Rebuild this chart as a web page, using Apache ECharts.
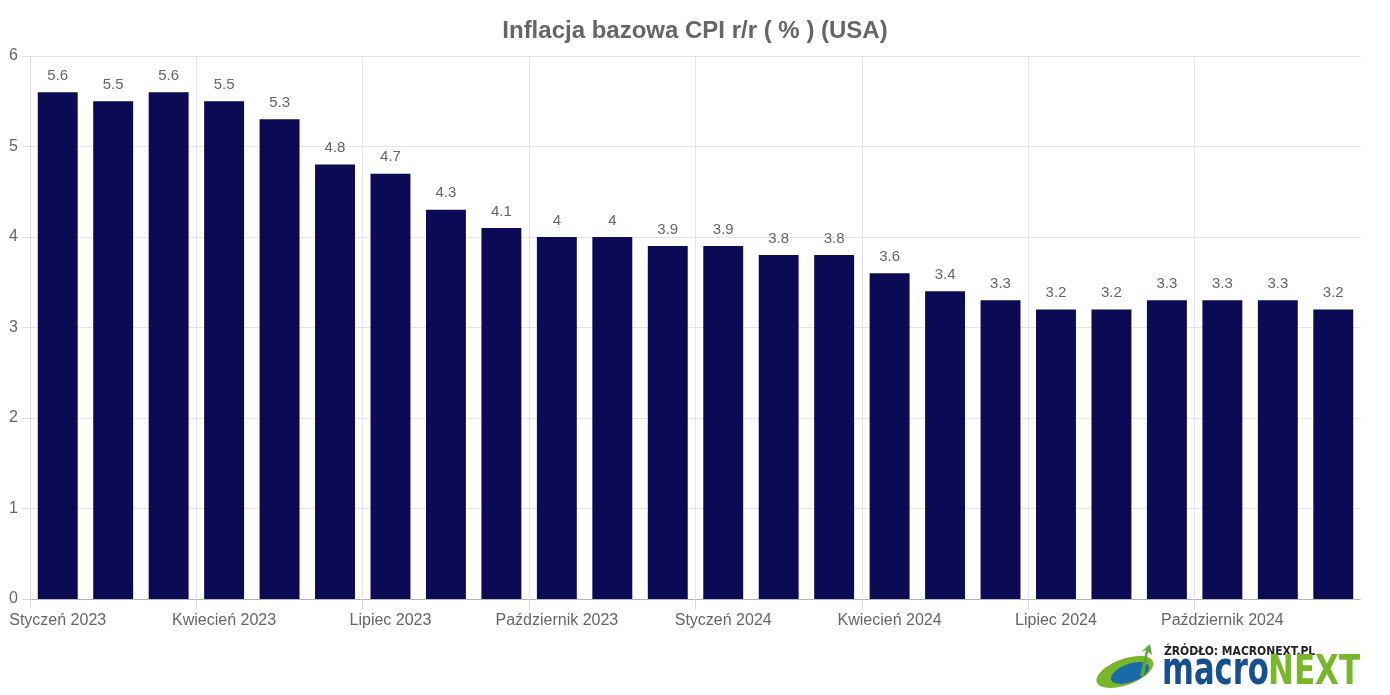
<!DOCTYPE html>
<html><head><meta charset="utf-8">
<script src="https://cdn.jsdelivr.net/npm/echarts@6/dist/echarts.min.js"></script>
<style>html,body{margin:0;padding:0;background:#fff}#c{width:1390px;height:695px}</style>
</head><body><div id="c"></div>
<script>
const categories = ['Styczeń 2023','Luty 2023','Marzec 2023','Kwiecień 2023','Maj 2023','Czerwiec 2023','Lipiec 2023','Sierpień 2023','Wrzesień 2023','Październik 2023','Listopad 2023','Grudzień 2023','Styczeń 2024','Luty 2024','Marzec 2024','Kwiecień 2024','Maj 2024','Czerwiec 2024','Lipiec 2024','Sierpień 2024','Wrzesień 2024','Październik 2024','Listopad 2024','Grudzień 2024'];
const values = [5.6,5.5,5.6,5.5,5.3,4.8,4.7,4.3,4.1,4,4,3.9,3.9,3.8,3.8,3.6,3.4,3.3,3.2,3.2,3.3,3.3,3.3,3.2];
const titleText = 'Inflacja bazowa CPI r/r ( % ) (USA)';
const sourceText = 'ŹRÓDŁO: MACRONEXT.PL';

const chart = echarts.init(document.getElementById('c'));
chart.setOption({
  animation:false,
  title:{text:titleText,left:'center',top:14,textStyle:{fontFamily:'Liberation Sans, Arial',fontSize:24,fontWeight:'bold',color:'#666'}},
  grid:{left:30,right:29,top:56,bottom:96,containLabel:false},
  xAxis:{type:'category',data:categories,
    axisLine:{lineStyle:{color:'#b5b5b5'}},
    axisTick:{show:true,interval:2,length:10,lineStyle:{color:'#d8d8d8'}},
    splitLine:{show:true,interval:2,lineStyle:{color:'#e6e6e6'}},
    axisLabel:{interval:2,color:'#666',fontFamily:'Liberation Sans, Arial',fontSize:16,margin:14}},
  yAxis:{type:'value',min:0,max:6,interval:1,
    axisLine:{show:true,lineStyle:{color:'#ddd'}},
    axisTick:{show:true,length:8,lineStyle:{color:'#ddd'}},
    splitLine:{lineStyle:{color:'#e6e6e6'}},
    axisLabel:{color:'#666',fontFamily:'Liberation Sans, Arial',fontSize:16,margin:12}},
  series:[{type:'bar',data:values,barCategoryGap:'28%',
    itemStyle:{color:'#0b0a55'},
    label:{show:true,position:'top',distance:9,color:'#666',fontFamily:'Liberation Sans, Arial',fontSize:15}}],
  graphic:[
    {type:'rect',shape:{x:1360.6,y:50,width:5,height:570},style:{fill:'#fff'},z:100},
    {type:'text',x:1164,y:645,scaleX:0.92,style:{text:sourceText,fontFamily:'DejaVu Sans Condensed, DejaVu Sans, sans-serif',fontWeight:'bold',fontSize:13,fill:'#222'}},
    {type:'text',x:1162,y:649,scaleX:0.74,style:{text:'macro',fontFamily:'DejaVu Sans Condensed, DejaVu Sans, sans-serif',fontWeight:'bold',fontSize:46,fill:'#17508f'}},
    {type:'text',x:1268,y:653,scaleX:0.84,style:{text:'NEXT',fontFamily:'DejaVu Sans Condensed, DejaVu Sans, sans-serif',fontWeight:'bold',fontSize:41,fill:'#78b62a'}},
    {type:'ellipse',shape:{cx:1125,cy:672,rx:30,ry:13},rotation:0.35,originX:1125,originY:672,style:{fill:'#78b62a'}},
    {type:'ellipse',shape:{cx:1130,cy:673,rx:20,ry:9},rotation:0.35,originX:1130,originY:673,style:{fill:'#1a6aa8'}},
    {type:'polygon',shape:{points:[[1140,676],[1146,650],[1141,652],[1150,644],[1152,655],[1148,652],[1144,676]]},style:{fill:'#5aa83a'}}
  ]
});
</script></body></html>
